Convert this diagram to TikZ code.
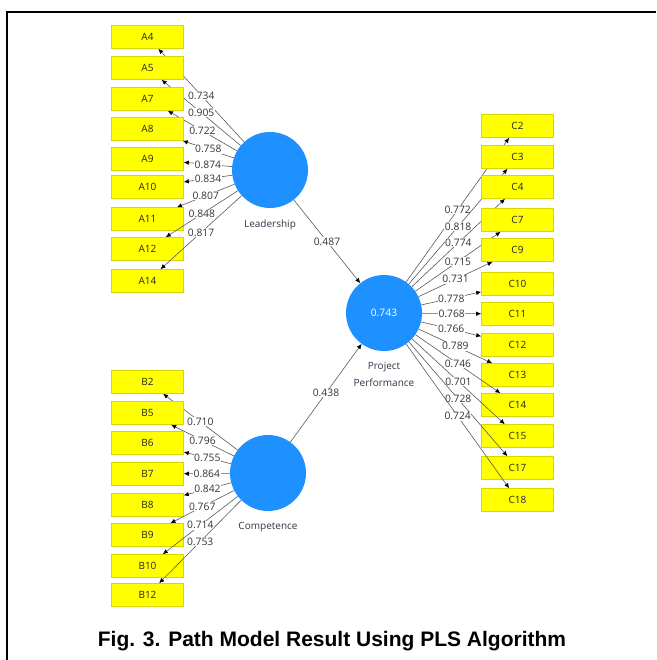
\documentclass[tikz,border=0pt]{standalone}
\usepackage{fontspec}
\setmainfont{Open Sans}
\newfontfamily\capfont{Liberation Sans}
\usetikzlibrary{arrows.meta,positioning}
\definecolor{latcolor}{RGB}{30,144,255}
\definecolor{boxcolor}{RGB}{255,255,0}
\definecolor{boxedge}{RGB}{215,215,0}
\definecolor{txtcolor}{RGB}{50,50,70}
\tikzset{
  indbox/.style={rectangle, fill=boxcolor, draw=boxedge, line width=0.6pt,
    minimum width=72pt, minimum height=23pt, inner sep=0pt,
    font=\fontsize{10}{11}\selectfont, text=black!85},
  latnode/.style={circle, fill=latcolor, minimum size=76pt, inner sep=0pt},
  loadln/.style={-{Latex[length=5pt,width=4.5pt,black]}, line width=0.6pt, black!65},
  loadlab/.style={fill=white, inner sep=0.6pt, text=black!80,
    font=\fontsize{10.3}{11}\selectfont},
  latlab/.style={text=txtcolor, font=\fontsize{10}{11}\selectfont},
}

\begin{document}
\begin{tikzpicture}[x=1pt, y=-1pt]
    \useasboundingbox (0,0) rectangle (656,660);
    \draw[line width=2pt] (7,660) -- (7,12) -- (656,12);

    % latent variables
    \node[latnode] (lead) at (270,170) {};
    \node[latnode] (comp) at (268,473) {};
    \node[latnode, text=white, font=\fontsize{10.3}{11}\selectfont] (perf) at (384,313) {0.743};
    \node[latlab, below=8pt of lead] (leadlab) {Leadership};
    \node[latlab, below=8pt of comp] (complab) {Competence};
    \node[latlab, below=7pt of perf, align=center, font=\fontsize{10}{17}\selectfont] (perflab) {Project\\Performance};

    % indicators
    \foreach \n/\y/\v in {A4/37/0.734, A5/68/0.905, A7/99/0.722, A8/129/0.758, A9/159/0.874,
                          A10/187/0.834, A11/219/0.807, A12/249/0.848, A14/281/0.817} {
      \node[indbox] (\n) at (147.5,\y) {\n};
      \draw[loadln] (lead) -- node[loadlab] {\v} (\n);
    }
    \foreach \n/\y/\v in {B2/382/0.710, B5/413/0.796, B6/443/0.755, B7/474/0.864,
                          B8/505/0.842, B9/535/0.767, B10/566/0.714, B12/595/0.753} {
      \node[indbox] (\n) at (147.5,\y) {\n};
      \draw[loadln] (comp) -- node[loadlab] {\v} (\n);
    }
    \foreach \n/\y/\v in {C2/126/0.772, C3/157/0.818, C4/187/0.774, C7/220/0.715, C9/250/0.731,
                          C10/284/0.778, C11/314/0.768, C12/345/0.766, C13/375/0.789,
                          C14/405/0.746, C15/436/0.701, C17/468/0.728, C18/500/0.724} {
      \node[indbox] (\n) at (517.5,\y) {\n};
      \draw[loadln] (perf) -- node[loadlab] {\v} (\n);
    }

    % structural paths
    \draw[loadln] (lead) -- node[loadlab] {0.487} (perf);
    \draw[loadln] (comp) -- node[loadlab] {0.438} (perf);

    \node[font=\capfont\bfseries\fontsize{21}{23}\selectfont] (caption) at (332,641)
      {Fig. 3. Path Model Result Using PLS Algorithm};
\end{tikzpicture}
\end{document}
